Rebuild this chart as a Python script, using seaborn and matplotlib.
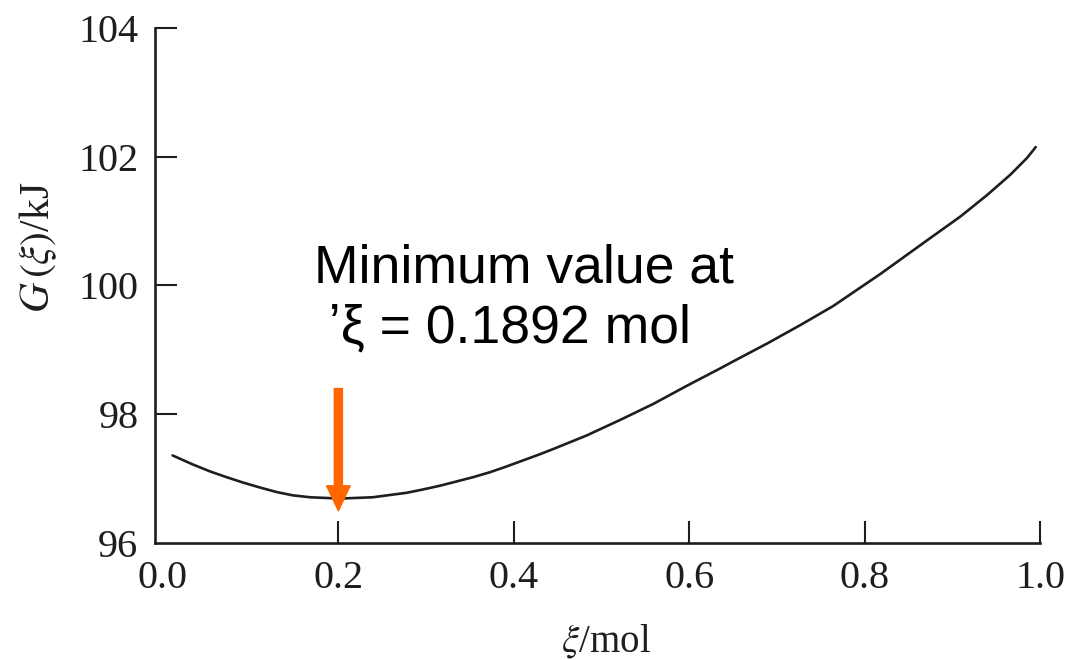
import numpy as np
import pandas as pd
import matplotlib.pyplot as plt
import seaborn as sns

# values
xi = [0.011, 0.034, 0.054, 0.073, 0.091, 0.111, 0.130, 0.148, 0.168, 0.202,
      0.239, 0.278, 0.296, 0.316, 0.353, 0.373, 0.392, 0.410, 0.430, 0.445,
      0.483, 0.521, 0.559, 0.597, 0.635, 0.650, 0.689, 0.726, 0.764, 0.791,
      0.818, 0.871, 0.909, 0.940, 0.966, 0.985, 0.995]
g_kj = [97.36, 97.22, 97.11, 97.02, 96.94, 96.86, 96.79, 96.74, 96.71, 96.69,
        96.71, 96.78, 96.83, 96.89, 97.02, 97.10, 97.19, 97.28, 97.38, 97.46,
        97.67, 97.91, 98.16, 98.44, 98.71, 98.82, 99.10, 99.38, 99.68, 99.93,
        100.18, 100.70, 101.07, 101.41, 101.72, 101.98, 102.15]
x_ticks = [0.0, 0.2, 0.4, 0.6, 0.8, 1.0]
y_ticks = [96, 98, 100, 102, 104]
xi_min = 0.2
note = "Minimum value at\n \u02bc\u03be = 0.1892 mol"

df = pd.DataFrame({"xi": xi, "G": g_kj})

sns.set_theme(style="ticks")
plt.rcParams["font.family"] = ["Liberation Serif", "DejaVu Serif"]
plt.rcParams["mathtext.fontset"] = "stix"

fig = plt.figure(figsize=(10.82, 6.6), dpi=100)
ax = fig.add_axes([0.1433, 0.1773, 0.818, 0.7803])

sns.lineplot(data=df, x="xi", y="G", color="#1e1e1e", linewidth=1.9, ax=ax)

ax.set_xlim(-0.009, 1.0)
ax.set_ylim(96, 104)
ax.set_xticks(x_ticks)
ax.set_xticklabels([f"{v:.1f}" for v in x_ticks])
ax.set_yticks(y_ticks)
ax.set_yticklabels([str(v) for v in y_ticks])
ax.tick_params(direction="in", length=16, width=1.5, colors="#1e1e1e",
               labelsize=29, pad=12)
ax.tick_params(axis="y", pad=12)
# the origin has no tick marks, only labels
ax.xaxis.get_major_ticks()[0].tick1line.set_visible(False)
ax.yaxis.get_major_ticks()[0].tick1line.set_visible(False)
for s in ["top", "right"]:
    ax.spines[s].set_visible(False)
for s in ["left", "bottom"]:
    ax.spines[s].set_linewidth(1.9)
    ax.spines[s].set_color("#1e1e1e")

ax.set_xlabel("")
ax.set_ylabel("")
fig.text(0.56, 0.028, r"$\xi$/mol", fontsize=28, ha="center", va="center",
         color="#1e1e1e")
fig.text(0.035, 0.625, r"$G\,(\xi)$/kJ", fontsize=30, rotation=90,
         ha="center", va="center", color="#1e1e1e")

ax.annotate("", xy=(xi_min, 96.5), xytext=(xi_min, 98.4),
            arrowprops=dict(arrowstyle="simple,head_width=17,head_length=18,tail_width=5.8",
                            mutation_scale=1, color="#ff6600", shrinkA=0, shrinkB=0))
ax.text(0.172, 99.8, note, fontsize=38.5, family=["Liberation Sans", "DejaVu Sans"],
        ha="left", va="center", color="black", linespacing=1.25)

fig.savefig("out.png", dpi=100, facecolor="white")
